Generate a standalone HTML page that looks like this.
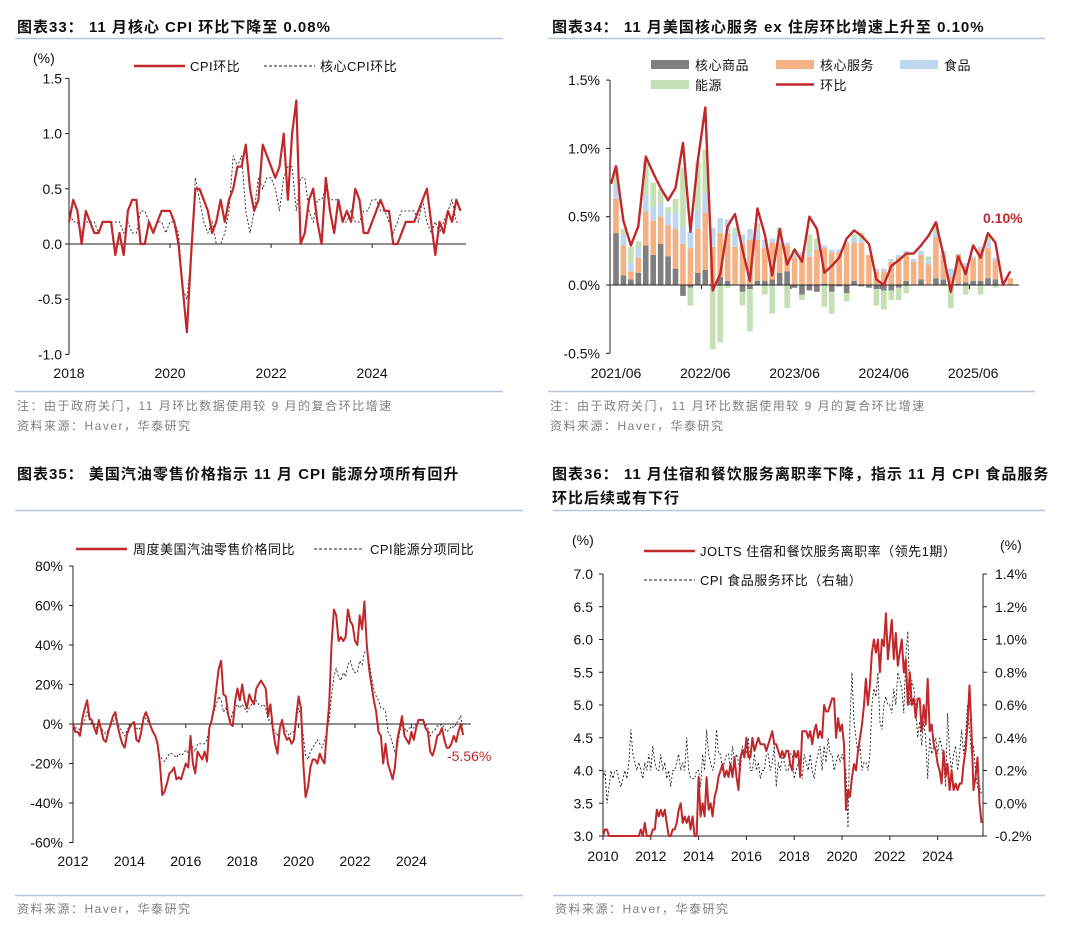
<!DOCTYPE html>
<html><head><meta charset="utf-8">
<style>
html,body{margin:0;padding:0;background:#fff;}
svg{display:block;font-family:"Liberation Sans","Noto Sans CJK SC",sans-serif;}
.t{font-weight:bold;font-size:15px;fill:#111;letter-spacing:1px;}
.tk{font-size:14px;fill:#111;}
.nt{font-size:12px;fill:#7f7f7f;letter-spacing:1.5px;}
.lg{font-size:13px;fill:#111;letter-spacing:0.5px;}
</style></head><body>
<svg id="s" width="1080" height="935" viewBox="0 0 1080 935">
<text class="t" x="17" y="32">图表33：  11 月核心 CPI 环比下降至 0.08%</text>
<line x1="15" y1="38.5" x2="503" y2="38.5" stroke="#b9c6da" stroke-width="1.5"/>
<text class="tk" x="33" y="63">(%)</text>
<line x1="134" y1="66" x2="185" y2="66" stroke="#c0282b" stroke-width="2.5"/>
<text class="lg" x="190" y="71">CPI环比</text>
<line x1="264" y1="66" x2="315" y2="66" stroke="#222" stroke-width="1" stroke-dasharray="3,2"/>
<text class="lg" x="320" y="71">核心CPI环比</text>
<line x1="15" y1="391.5" x2="503" y2="391.5" stroke="#b9c6da" stroke-width="1.5"/>
<text class="nt" x="17" y="410">注：由于政府关门，11 月环比数据使用较 9 月的复合环比增速</text>
<text class="nt" x="17" y="430">资料来源：Haver，华泰研究</text>

<text class="t" x="552" y="32">图表34：  11 月美国核心服务 ex 住房环比增速上升至 0.10%</text>
<line x1="548" y1="38.5" x2="1045" y2="38.5" stroke="#b9c6da" stroke-width="1.5"/>
<rect x="651" y="60" width="38" height="9" fill="#7f7f7f"/>
<text class="lg" x="695" y="70">核心商品</text>
<rect x="776" y="60" width="38" height="9" fill="#f4b183"/>
<text class="lg" x="820" y="70">核心服务</text>
<rect x="900" y="60" width="38" height="9" fill="#bdd7ee"/>
<text class="lg" x="944" y="70">食品</text>
<rect x="651" y="80" width="38" height="9" fill="#c5e0b4"/>
<text class="lg" x="695" y="90">能源</text>
<line x1="776" y1="84.5" x2="814" y2="84.5" stroke="#c0282b" stroke-width="2.5"/>
<text class="lg" x="820" y="90">环比</text>
<text x="983" y="223" style="font-size:14px;font-weight:bold;fill:#c0282b">0.10%</text>
<line x1="548" y1="391.5" x2="1035" y2="391.5" stroke="#b9c6da" stroke-width="1.5"/>
<text class="nt" x="550" y="410">注：由于政府关门，11 月环比数据使用较 9 月的复合环比增速</text>
<text class="nt" x="550" y="430">资料来源：Haver，华泰研究</text>

<text class="t" x="17" y="479">图表35：  美国汽油零售价格指示 11 月 CPI 能源分项所有回升</text>
<line x1="15" y1="510.5" x2="523" y2="510.5" stroke="#b9c6da" stroke-width="1.5"/>
<line x1="76" y1="549" x2="127" y2="549" stroke="#c0282b" stroke-width="2.5"/>
<text class="lg" x="133" y="554">周度美国汽油零售价格同比</text>
<line x1="314" y1="549" x2="364" y2="549" stroke="#222" stroke-width="1" stroke-dasharray="3,2"/>
<text class="lg" x="370" y="554">CPI能源分项同比</text>
<text x="447" y="761" style="font-size:14px;fill:#c0282b">-5.56%</text>
<line x1="15" y1="895.5" x2="523" y2="895.5" stroke="#b9c6da" stroke-width="1.5"/>
<text class="nt" x="17" y="913">资料来源：Haver，华泰研究</text>

<text class="t" x="552" y="479">图表36：  11 月住宿和餐饮服务离职率下降，指示 11 月 CPI 食品服务</text>
<text class="t" x="552" y="503">环比后续或有下行</text>
<line x1="553" y1="510.5" x2="1045" y2="510.5" stroke="#b9c6da" stroke-width="1.5"/>
<text class="tk" x="572" y="545">(%)</text>
<text class="tk" x="1000" y="550">(%)</text>
<line x1="644" y1="551" x2="695" y2="551" stroke="#c0282b" stroke-width="2.5"/>
<text class="lg" x="700" y="556">JOLTS 住宿和餐饮服务离职率（领先1期）</text>
<line x1="644" y1="580" x2="695" y2="580" stroke="#222" stroke-width="1" stroke-dasharray="3,2"/>
<text class="lg" x="700" y="585">CPI 食品服务环比（右轴）</text>
<line x1="553" y1="895.5" x2="1045" y2="895.5" stroke="#b9c6da" stroke-width="1.5"/>
<text class="nt" x="555" y="913">资料来源：Haver，华泰研究</text>
<g id="dyn"></g>
</svg>
<script>
const c33Ticks = [1.5, 1.0, 0.5, 0.0, -0.5, -1.0];
const c33TickLabels = ["1.5", "1.0", "0.5", "0.0", "-0.5", "-1.0"];
const c33Years = ["2018", "2020", "2022", "2024"];
const c33Cpi = [0.2,0.4,0.3,0.0,0.3,0.2,0.1,0.1,0.2,0.2,0.2,-0.1,
 0.1,-0.1,0.3,0.4,0.4,0.0,0.0,0.2,0.1,0.2,0.3,0.3,
 0.3,0.2,0.0,-0.4,-0.8,-0.1,0.5,0.5,0.4,0.3,0.1,0.2,
 0.4,0.2,0.4,0.5,0.7,0.7,0.9,0.5,0.3,0.4,0.9,0.8,
 0.7,0.6,0.7,1.0,0.4,1.0,1.3,0.0,0.1,0.4,0.5,0.2,
 0.0,0.6,0.3,0.1,0.4,0.2,0.3,0.2,0.5,0.4,0.1,0.1,
 0.2,0.3,0.4,0.3,0.3,0.0,0.0,0.1,0.2,0.2,0.2,0.3,
 0.4,0.5,0.2,-0.1,0.2,0.1,0.3,0.2,0.4,0.3];
const c33Core = [0.3,0.2,0.2,0.1,0.2,0.2,0.2,0.1,0.2,0.2,0.2,0.2,
 0.2,0.1,0.2,0.1,0.1,0.3,0.3,0.2,0.1,0.2,0.2,0.1,
 0.2,0.2,0.1,-0.4,-0.5,-0.1,0.6,0.4,0.2,0.1,0.2,0.0,
 0.0,0.1,0.3,0.8,0.7,0.8,0.3,0.1,0.3,0.6,0.5,0.6,
 0.6,0.5,0.3,0.6,0.7,0.7,0.3,0.6,0.6,0.3,0.2,0.4,
 0.4,0.5,0.4,0.4,0.4,0.2,0.2,0.3,0.2,0.2,0.3,0.3,
 0.4,0.4,0.3,0.3,0.2,0.1,0.2,0.3,0.3,0.3,0.3,0.2,
 0.4,0.2,0.1,0.2,0.1,0.2,0.3,0.4,0.2,0.2];

const c34Ticks = [1.5, 1.0, 0.5, 0.0, -0.5];
const c34TickLabels = ["1.5%", "1.0%", "0.5%", "0.0%", "-0.5%"];
const c34XLabels = ["2021/06", "2022/06", "2023/06", "2024/06", "2025/06"];
const c34Goods = [.38,.07,.04,.09,.29,.22,.30,.21,.12,-.08,-.02,.09,.11,-.01,.06,.03,.0,-.05,-.03,.03,.03,.04,.09,.10,-.02,-.07,-.04,-.05,.01,-.05,-.01,-.06,.03,-.01,-.02,-.03,-.04,-.04,-.02,.03,.0,.04,.0,.05,.04,.0,.01,.02,.03,.03,.05,.04,.0,.0];
const c34Services = [.25,.22,.06,.11,.25,.25,.20,.23,.29,.30,.27,.32,.42,.28,.32,.35,.28,.30,.33,.30,.24,.27,.21,.19,.20,.22,.21,.26,.26,.24,.24,.30,.28,.31,.22,.10,.10,.17,.20,.20,.17,.18,.15,.30,.18,.06,.21,.12,.16,.23,.22,.14,.0,.05];
const c34Food = [.10,.08,.06,.07,.12,.10,.10,.09,.12,.12,.12,.14,.14,.14,.11,.10,.10,.07,.08,.07,.06,.03,.03,.02,.03,.02,.02,.02,.02,.02,.02,.02,.04,.02,.0,.02,.02,.02,.02,.02,.02,.03,.03,.03,.02,.06,.01,.02,.02,.02,.06,.02,.0,.0];
const c34Energy = [.13,.04,.12,.05,.24,.18,.1,.04,.1,.44,-.13,.35,.32,-.46,-.42,-.02,.04,-.1,-.31,.05,-.07,-.21,.09,-.17,.03,-.04,.14,.06,-.16,-.16,.0,-.06,.02,.05,.0,-.12,-.14,-.07,-.09,-.06,.0,.0,.03,.07,.01,-.17,.0,-.07,.0,-.07,.04,-.02,.0,.0];
const c34Total = [.87,.47,.29,.43,.94,.82,.71,.62,.71,1.04,.39,.91,1.30,-.04,.08,.43,.52,.26,.03,.56,.37,.07,.41,.15,.26,.17,.50,.41,.09,.14,.20,.34,.40,.36,.30,.04,.0,.14,.18,.23,.23,.29,.36,.46,.22,-.05,.21,.08,.29,.20,.38,.31,.0,.10];

const c35Ticks = [80, 60, 40, 20, 0, -20, -40, -60];
const c35TickLabels = ["80%", "60%", "40%", "20%", "0%", "-20%", "-40%", "-60%"];
const c35Years = ["2012","2014","2016","2018","2020","2022","2024"];
const c35Gas = [0,-4,-4,-6,3,8,12,3,2,-2,-5,2,
 -3,-8,-9,-4,0,4,6,-1,-6,-10,-12,-5,
 -2,0,1,-8,-9,-4,3,6,3,-1,-4,-6,
 -10,-20,-36,-34,-30,-25,-24,-22,-28,-27,-28,-24,
 -20,-22,-6,-20,-25,-14,-16,-18,-14,-19,-2,2,
 8,18,28,32,15,14,5,0,-1,12,18,12,
 20,12,8,15,12,10,18,20,22,20,18,4,
 10,-2,-10,-15,-2,2,-5,-8,-7,-10,-8,4,
 14,8,-20,-37,-32,-22,-18,-18,-20,-15,-18,-20,
 -4,10,40,58,55,42,44,42,44,58,52,50,
 42,40,55,48,62,40,28,20,12,6,-4,-6,
 -20,-10,-20,-24,-28,-22,-8,-2,4,-6,-8,-10,
 -4,-8,-2,2,2,2,-2,-4,-14,-16,-12,-6,
 -5,-2,-8,-12,-12,-10,-6,-9,-4,0,-5.56];
const c35Energy = [0,-2,-2,-3,0,2,6,2,0,0,-2,0,
 -2,-4,-5,-3,-1,1,3,0,-2,-4,-6,-3,
 -1,0,1,-2,-3,-1,2,3,1,-1,-3,-6,
 -12,-16,-18,-19,-17,-15,-15,-16,-17,-15,-16,-15,
 -13,-15,-10,-12,-14,-10,-10,-10,-10,-8,-2,1,
 6,10,14,12,6,8,4,2,6,8,10,8,
 10,8,6,8,10,12,12,10,9,10,8,2,
 2,-2,-4,-6,-2,0,-2,-4,-6,-4,-4,2,
 8,4,-6,-16,-18,-14,-12,-10,-8,-10,-12,-8,
 -4,2,14,24,28,24,22,26,24,30,32,28,
 26,26,32,30,36,38,32,24,18,14,12,8,
 8,6,-4,-6,-10,-14,-12,-4,0,-2,-4,-2,
 -2,-2,0,2,2,2,0,-2,-6,-4,-3,-1,
 -1,0,-2,-4,-3,-1,-2,0,2,4,-4];

const c36LeftTicks = [7.0,6.5,6.0,5.5,5.0,4.5,4.0,3.5,3.0];
const c36LeftLabels = ["7.0","6.5","6.0","5.5","5.0","4.5","4.0","3.5","3.0"];
const c36RightTicks = [1.4,1.2,1.0,0.8,0.6,0.4,0.2,0.0,-0.2];
const c36RightLabels = ["1.4%","1.2%","1.0%","0.8%","0.6%","0.4%","0.2%","0.0%","-0.2%"];
const c36Years = ["2010","2012","2014","2016","2018","2020","2022","2024"];
const c36Jolts = [3.0,3.1,3.1,3.0,3.0,3.0,3.0,3.0,3.0,3.0,3.0,3.0,
 3.0,3.0,3.0,3.0,3.0,3.0,3.0,3.1,3.0,3.2,3.0,3.0,
 3.0,3.1,3.1,3.4,3.3,3.4,3.3,3.4,3.2,3.0,3.0,3.1,
 3.1,3.2,3.4,3.5,3.2,3.3,3.2,3.3,3.1,3.3,3.0,3.0,
 3.9,3.3,3.5,3.3,3.9,3.4,3.5,3.3,3.6,3.7,3.9,4.0,
 4.1,3.9,4.0,3.9,4.1,3.9,4.2,3.9,3.7,4.2,4.3,4.2,
 4.5,4.2,4.2,4.5,4.3,4.4,4.5,4.4,4.4,4.4,4.3,4.4,
 4.5,4.6,4.4,4.4,4.3,4.2,4.3,4.2,4.3,4.3,4.1,4.0,
 4.3,4.2,4.3,3.9,4.6,4.6,4.6,4.5,4.6,4.4,4.6,4.7,
 4.5,4.6,4.5,5.0,4.9,4.9,5.0,5.1,5.1,4.5,4.8,4.6,
 4.7,4.4,3.4,3.7,3.6,3.9,4.1,4.0,4.3,4.5,4.7,5.0,
 5.4,5.0,5.3,5.8,6.0,5.8,6.0,5.5,6.0,5.9,6.4,5.7,
 6.0,6.3,5.7,6.1,5.6,5.8,6.0,5.5,5.7,5.0,5.5,5.0,
 5.1,4.8,5.1,5.1,4.6,5.0,4.7,5.4,4.6,4.7,4.4,4.3,
 4.1,4.0,3.8,4.3,3.9,4.1,3.7,4.0,3.7,3.8,3.7,3.8,
 3.8,4.1,4.3,4.7,5.3,4.6,3.7,3.9,4.2,3.5,3.2];
const c36Food = [.15,.2,.0,.1,.2,.15,.2,.2,.15,.1,.15,.2,
 .15,.25,.45,.3,.25,.2,.25,.2,.15,.25,.2,.3,
 .2,.35,.25,.2,.2,.3,.2,.25,.15,.2,.1,.2,
 .2,.25,.3,.2,.25,.2,.4,.2,.15,.15,.15,.2,
 .2,.1,.3,.2,.45,.3,.25,.2,.25,.45,.3,.3,
 .2,.25,.3,.3,.2,.35,.25,.3,.25,.2,.35,.3,
 .3,.4,.2,.2,.3,.2,.25,.15,.2,.2,.3,.3,
 .2,.25,.35,.1,.25,.2,.3,.25,.2,.2,.3,.3,
 .15,.2,.25,.2,.15,.3,.25,.2,.3,.2,.15,.25,
 .3,.35,.2,.35,.25,.4,.3,.3,.2,.25,.3,.25,
 .3,.25,.2,-.15,.5,.8,.5,.4,.3,.35,.2,.25,
 .25,.2,.3,.6,.7,.65,.8,.5,.45,.6,.65,.6,
 .6,.55,.7,.6,.8,.75,.7,.55,.9,1.05,.6,.75,
 .7,.6,.4,.5,.35,.5,.4,.15,.4,.3,.35,.4,
 .3,.4,.35,.25,.1,.55,.3,.2,.3,.35,.2,.3,
 .45,.3,.4,.6,.45,.3,.35,.2,.1,.1,.05];

const NS = "http://www.w3.org/2000/svg";
const root = document.getElementById("dyn");
function mk(tag, attrs, name) {
  const el = document.createElementNS(NS, tag);
  for (const k in attrs) el.setAttribute(k, attrs[k]);
  
  
  root.appendChild(el);
  return el;
}
function txt(x, y, s, anchor, name, extra) {
  const el = mk("text", Object.assign({x: x, y: y, "text-anchor": anchor, "font-size": 14, fill: "#111"}, extra || {}), name);
  el.textContent = s;
  return el;
}
function poly(pts, attrs, name) {
  return mk("polyline", Object.assign({points: pts.map(p => p[0].toFixed(1) + "," + p[1].toFixed(1)).join(" "), fill: "none"}, attrs), name);
}

const x33 = i => 69 + i * 4.21;
const y33 = v => 244 - v * 110.4;
mk("line", {x1: 69, y1: y33(1.5), x2: 69, y2: y33(-1.0), stroke: "#222", "stroke-width": 1}, "chart33-y-axis");
c33Ticks.forEach((t, k) => {
  mk("line", {x1: 65, y1: y33(t), x2: 69, y2: y33(t), stroke: "#222"}, "chart33-y-tick");
  txt(62, y33(t) + 5, c33TickLabels[k], "end", "chart33-y-tick-label");
});
mk("line", {x1: 69, y1: y33(0), x2: 466, y2: y33(0), stroke: "#222"}, "chart33-zero-line");
c33Years.forEach((s, k) => {
  const x = x33(k * 24);
  if (k > 0) mk("line", {x1: x, y1: y33(0), x2: x, y2: y33(0) + 4, stroke: "#222"}, "chart33-x-tick");
  txt(x, 378, s, "middle", "chart33-x-tick-label");
});
poly(c33Core.map((v, i) => [x33(i), y33(v)]), {stroke: "#222", "stroke-width": 0.9, "stroke-dasharray": "2,2"}, "chart33-core-cpi-line");
poly(c33Cpi.map((v, i) => [x33(i), y33(v)]), {stroke: "#c0282b", "stroke-width": 2.2, "stroke-linejoin": "round"}, "chart33-cpi-line");

const x34 = i => 616 + i * 7.44;
const y34 = v => 285 - v * 136.6;
mk("line", {x1: 610, y1: y34(1.5), x2: 610, y2: y34(-0.5), stroke: "#222"}, "chart34-y-axis");
c34Ticks.forEach((t, k) => {
  mk("line", {x1: 606, y1: y34(t), x2: 610, y2: y34(t), stroke: "#222"}, "chart34-y-tick");
  txt(600, y34(t) + 5, c34TickLabels[k], "end", "chart34-y-tick-label");
});
c34Total.forEach((_, i) => {
  const comps = [[c34Goods[i], "#7f7f7f"], [c34Services[i], "#f4b183"], [c34Food[i], "#bdd7ee"], [c34Energy[i], "#c5e0b4"]];
  let pos = 0, neg = 0;
  comps.forEach(([v, c], j) => {
    let top, bot;
    if (v >= 0) { bot = pos; pos += v; top = pos; } else { top = neg; neg += v; bot = neg; }
    const ya = y34(top), yb = y34(bot);
    mk("rect", {x: x34(i) - 2.8, y: ya, width: 5.6, height: Math.max(0, yb - ya), fill: c}, ["bar-core-goods", "bar-core-services", "bar-food", "bar-energy"][j]);
  });
});
mk("line", {x1: 610, y1: y34(0), x2: 1019, y2: y34(0), stroke: "#222"}, "chart34-zero-line");
c34XLabels.forEach((s, k) => {
  const x = x34(k * 12);
  if (k > 0) mk("line", {x1: x - 3.7, y1: y34(0), x2: x - 3.7, y2: y34(0) + 4, stroke: "#222"}, "chart34-x-tick");
  txt(x, 378, s, "middle", "chart34-x-tick-label");
});
poly([[611, y34(0.74)]].concat(c34Total.map((v, i) => [x34(i), y34(v)])), {stroke: "#c0282b", "stroke-width": 2.4, "stroke-linejoin": "round"}, "chart34-total-line");

const x35 = i => 73 + i * 2.35;
const y35 = v => 724 - v * 1.975;
mk("line", {x1: 73, y1: y35(80), x2: 73, y2: y35(-60), stroke: "#222"}, "chart35-y-axis");
c35Ticks.forEach((t, k) => {
  mk("line", {x1: 69, y1: y35(t), x2: 73, y2: y35(t), stroke: "#222"}, "chart35-y-tick");
  txt(63, y35(t) + 5, c35TickLabels[k], "end", "chart35-y-tick-label");
});
mk("line", {x1: 73, y1: y35(0), x2: 471, y2: y35(0), stroke: "#222"}, "chart35-zero-line");
c35Years.forEach((s, k) => {
  const x = x35(k * 24);
  if (k > 0) mk("line", {x1: x, y1: y35(0), x2: x, y2: y35(0) + 4, stroke: "#222"}, "chart35-x-tick");
  txt(x, 866, s, "middle", "chart35-x-tick-label");
});
poly(c35Energy.map((v, i) => [x35(i), y35(v)]), {stroke: "#222", "stroke-width": 0.9, "stroke-dasharray": "2,2"}, "chart35-cpi-energy-line");
poly(c35Gas.map((v, i) => [x35(i), y35(v)]), {stroke: "#c0282b", "stroke-width": 2, "stroke-linejoin": "round"}, "chart35-gas-line");

const x36 = i => 603 + i * 1.992;
const yL = v => 836 - (v - 3) * 65.5;
const yR = v => 836 - (v + 0.2) * 163.75;
mk("line", {x1: 603, y1: yL(7), x2: 603, y2: yL(3), stroke: "#222"}, "chart36-left-axis");
mk("line", {x1: 983, y1: yR(1.4), x2: 983, y2: yR(-0.2), stroke: "#222"}, "chart36-right-axis");
c36LeftTicks.forEach((t, k) => {
  mk("line", {x1: 599, y1: yL(t), x2: 603, y2: yL(t), stroke: "#222"}, "chart36-left-tick");
  txt(593, yL(t) + 5, c36LeftLabels[k], "end", "chart36-left-tick-label");
});
c36RightTicks.forEach((t, k) => {
  mk("line", {x1: 983, y1: yR(t), x2: 987, y2: yR(t), stroke: "#222"}, "chart36-right-tick");
  txt(995, yR(t) + 5, c36RightLabels[k], "start", "chart36-right-tick-label");
});
mk("line", {x1: 603, y1: yL(3), x2: 983, y2: yL(3), stroke: "#222"}, "chart36-x-axis");
c36Years.forEach((s, k) => {
  const x = x36(k * 24);
  mk("line", {x1: x, y1: yL(3), x2: x, y2: yL(3) + 4, stroke: "#222"}, "chart36-x-tick");
  txt(x, 861, s, "middle", "chart36-x-tick-label");
});
poly(c36Food.map((v, i) => [x36(i), yR(v)]), {stroke: "#222", "stroke-width": 0.9, "stroke-dasharray": "2,2"}, "chart36-cpi-food-line");
poly(c36Jolts.map((v, i) => [x36(i), yL(Math.max(3, v))]), {stroke: "#c0282b", "stroke-width": 2, "stroke-linejoin": "round"}, "chart36-jolts-line");
</script>
</body></html>
